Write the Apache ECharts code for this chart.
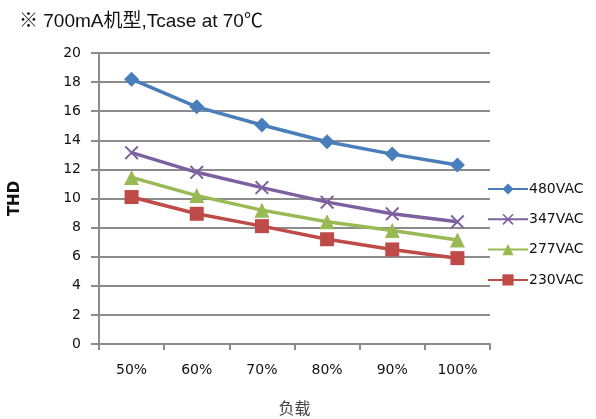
<!DOCTYPE html>
<html>
<head>
<meta charset="utf-8">
<script src="https://cdn.jsdelivr.net/npm/echarts@6/dist/echarts.min.js"></script>
<style>
html,body{margin:0;padding:0;background:#fff;}
#main{width:596px;height:419px;}
</style>
</head>
<body>
<div id="main"></div>
<script>
var categories = ['50%', '60%', '70%', '80%', '90%', '100%'];
var v480 = [18.2, 16.3, 15.05, 13.9, 13.05, 12.3];
var v347 = [13.15, 11.8, 10.75, 9.75, 8.95, 8.4];
var v277 = [11.45, 10.2, 9.2, 8.4, 7.8, 7.15];
var v230 = [10.1, 8.95, 8.1, 7.2, 6.5, 5.9];
var seriesNames = ['480VAC', '347VAC', '277VAC', '230VAC'];
var yTicks = {min: 0, max: 20, interval: 2};

var crossPath = 'path://M0,1 L1,0 L5,4 L9,0 L10,1 L6,5 L10,9 L9,10 L5,6 L1,10 L0,9 L4,5 Z';
var colors = ['#4A7EBB', '#7D60A0', '#98B954', '#BE4B48'];
var symbols = ['diamond', crossPath, 'triangle', 'rect'];
var sizes = [15, 14, 15, 14];
var data = [v480, v347, v277, v230];

var font = 'DejaVu Sans';
var chart = echarts.init(document.getElementById('main'));
chart.setOption({
  animation: false,
  backgroundColor: '#fff',
  title: {
    text: '※ 700mA机型,Tcase at 70℃',
    left: 14, top: 7,
    textStyle: {fontFamily: 'Liberation Sans, Noto Sans CJK SC', fontSize: 19, fontWeight: 'normal', color: '#111'}
  },
  legend: {
    orient: 'vertical',
    left: 482, top: 177,
    itemWidth: 40, itemHeight: 14, itemGap: 16.3,
    data: seriesNames,
    textStyle: {fontFamily: font, fontSize: 14, color: '#111', padding: [0,0,0,-4]}
  },
  grid: {left: 99, right: 106, top: 53, bottom: 75, outerBoundsMode: 'none', containLabel: false},
  xAxis: {
    type: 'category',
    data: categories,
    name: '负载',
    nameLocation: 'middle',
    nameGap: 56,
    nameTextStyle: {fontFamily: 'Noto Sans CJK SC', fontSize: 16, color: '#444'},
    axisLine: {lineStyle: {color: '#8C8C8C', width: 2}},
    axisTick: {show: true, length: 6, lineStyle: {color: '#8C8C8C', width: 2}},
    axisLabel: {fontFamily: font, fontSize: 14, color: '#111', margin: 19}
  },
  yAxis: {
    type: 'value',
    min: yTicks.min, max: yTicks.max, interval: yTicks.interval,
    name: 'THD',
    nameLocation: 'middle',
    nameGap: 76,
    nameTextStyle: {fontFamily: font, fontSize: 15, fontWeight: 'bold', color: '#111'},
    axisLine: {show: true, lineStyle: {color: '#8C8C8C', width: 2}},
    axisTick: {show: true, length: 8, lineStyle: {color: '#8C8C8C', width: 2}},
    axisLabel: {fontFamily: font, fontSize: 14, color: '#111', margin: 18},
    splitLine: {lineStyle: {color: '#8C8C8C', width: 2}}
  },
  series: seriesNames.map(function (n, i) {
    return {
      name: n,
      type: 'line',
      data: data[i],
      symbol: symbols[i],
      symbolSize: sizes[i],
      showAllSymbol: true,
      lineStyle: {color: colors[i], width: 3.5},
      itemStyle: {color: colors[i]},
      z: 10 - i
    };
  })
});
</script>
</body>
</html>
